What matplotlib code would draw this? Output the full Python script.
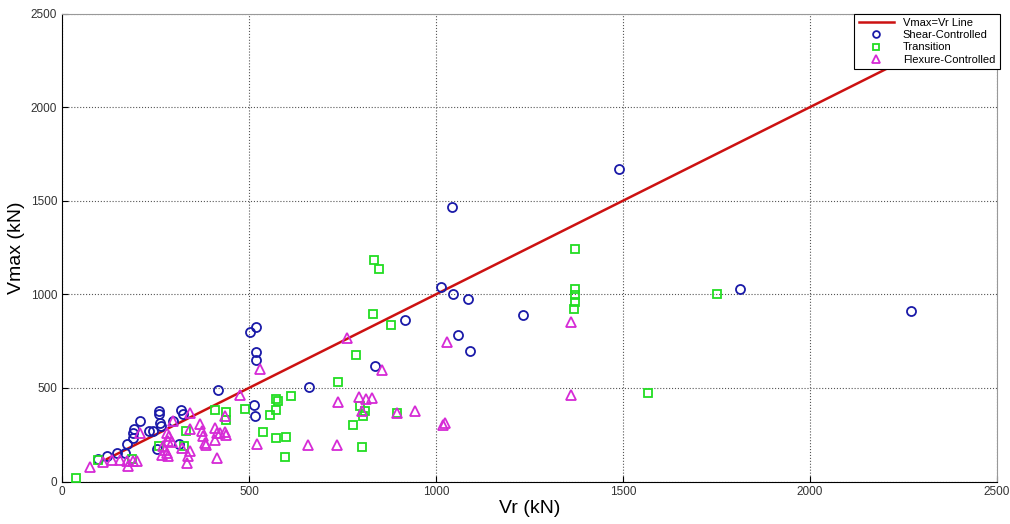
import numpy as np
import matplotlib
matplotlib.use('Agg')
import matplotlib.pyplot as plt

plt.rcParams['font.family'] = ['Liberation Sans', 'DejaVu Sans']

# values (kN)
shear_vr = [97, 119, 146, 168, 173, 191, 191, 193, 209, 233, 244, 253, 260, 260, 262, 265,
            296, 314, 317, 323, 416, 503, 519, 520, 520, 513, 516, 661, 838, 917,
            1013, 1046, 1086, 1042, 1058, 1091, 1232, 1489, 1813, 2270]
shear_vmax = [119, 135, 151, 151, 201, 230, 260, 278, 322, 272, 269, 171, 376, 362, 310, 295,
              322, 198, 381, 363, 488, 800, 826, 693, 649, 408, 352, 506, 619, 863,
              1037, 1000, 975, 1468, 784, 695, 891, 1667, 1027, 911]

trans_vr = [37, 95, 186, 260, 326, 331, 409, 438, 438, 489, 537, 556, 572, 572, 578, 572,
            599, 596, 611, 739, 777, 797, 810, 806, 801, 832, 835, 848, 881, 787, 895,
            1373, 1373, 1373, 1373, 1369, 1752, 1566]
trans_vmax = [20, 114, 121, 189, 192, 270, 383, 370, 330, 385, 263, 354, 381, 439, 429, 234,
              239, 132, 458, 530, 301, 402, 375, 348, 185, 894, 1182, 1137, 835, 677, 368,
              1240, 1027, 995, 960, 920, 1002, 474]

flex_vr = [75, 110, 133, 155, 173, 177, 191, 200, 209, 280, 287, 284, 293, 270, 275, 280,
           268, 283, 298, 320, 333, 338, 342, 342, 342, 369, 373, 378, 382, 386, 409, 414,
           409, 414, 422, 436, 438, 436, 476, 522, 529, 657, 734, 739, 763, 795, 813, 828,
           801, 855, 895, 945, 1020, 1024, 1029, 1361, 1361]
flex_vmax = [76, 103, 115, 114, 108, 85, 108, 108, 260, 260, 241, 215, 209, 190, 170, 150,
             140, 135, 322, 180, 100, 135, 162, 278, 365, 305, 269, 242, 206, 197, 287, 260,
             224, 127, 257, 266, 249, 349, 462, 200, 599, 194, 194, 426, 768, 453, 441, 446,
             375, 593, 368, 374, 301, 310, 743, 852, 461]

line_vr = [120, 2270]

fig = plt.figure(figsize=(10.1, 5.24), dpi=100)
ax = fig.add_axes([0.0614, 0.0811, 0.9257, 0.8931])

ax.plot(line_vr, line_vr, color='#cc1111', lw=1.8, label='Vmax=Vr Line', zorder=3)
ax.plot(shear_vr, shear_vmax, 'o', mfc='none', mec='#1a1aa8', mew=1.3, ms=6.5,
        label='Shear-Controlled', zorder=4)
ax.plot(trans_vr, trans_vmax, 's', mfc='none', mec='#22dd22', mew=1.3, ms=6,
        label='Transition', zorder=4)
ax.plot(flex_vr, flex_vmax, '^', mfc='none', mec='#d62ad6', mew=1.3, ms=7.5,
        label='Flexure-Controlled', zorder=4)

ax.set_xlim(0, 2500)
ax.set_ylim(0, 2500)
ax.set_xticks(np.arange(0, 2501, 500))
ax.set_yticks(np.arange(0, 2501, 500))
ax.grid(True, linestyle=':', color='#555555', lw=0.8)
ax.tick_params(direction='in', labelsize=8.5, length=4, labelcolor='#333333')
for s in ['top', 'right']:
    ax.spines[s].set_color('#999999')
ax.set_xlabel('Vr (kN)', fontsize=14, labelpad=1)
ax.set_ylabel('Vmax (kN)', fontsize=14, labelpad=4)

leg = ax.legend(loc='upper right', fontsize=8, fancybox=False, framealpha=1,
                edgecolor='black', borderaxespad=0, handlelength=3.2, markerscale=0.75,
                labelspacing=0.2, borderpad=0.4, bbox_to_anchor=(1.003, 1.0))
leg.get_frame().set_linewidth(0.8)

fig.savefig('out.png', dpi=100)
